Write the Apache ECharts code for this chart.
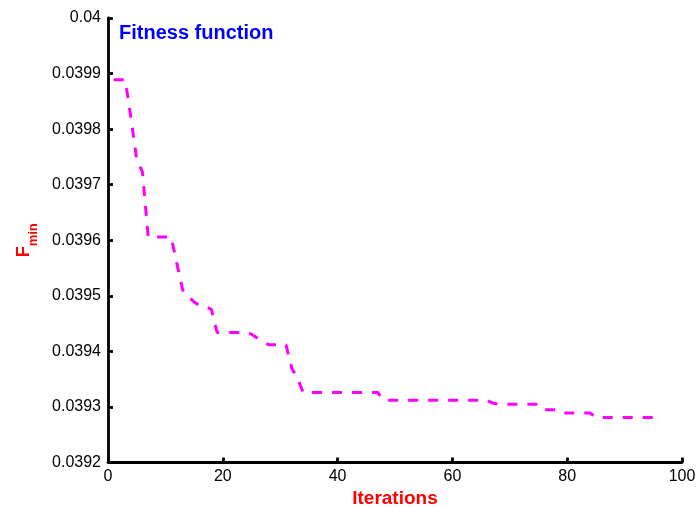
<!DOCTYPE html>
<html>
<head>
<meta charset="utf-8">
<script src="https://cdn.jsdelivr.net/npm/echarts@6/dist/echarts.min.js"></script>
<style>
html,body{margin:0;padding:0;background:#fff;overflow:hidden;}
#chart{width:699px;height:508px;}
</style>
</head>
<body>
<div id="chart"></div>
<script>
// Iteration numbers (x) and minimum fitness values (y)
var iterations = [
  1,2,3,4,5,6,7,8,9,10,11,12,13,14,15,16,17,18,19,20,
  21,22,23,24,25,26,27,28,29,30,31,32,33,34,35,36,37,38,39,40,
  41,42,43,44,45,46,47,48,49,50,51,52,53,54,55,56,57,58,59,60,
  61,62,63,64,65,66,67,68,69,70,71,72,73,74,75,76,77,78,79,80,
  81,82,83,84,85,86,87,88,89,90,91,92,93,94,95,96
];
var fmin = [
  0.039889,0.039889,0.039889,0.039820,0.039745,0.039723,
  0.039606,0.039606,0.039606,0.039606,0.039606,
  0.039558,0.039511,0.039498,0.039489,0.039482,0.039480,0.039476,
  0.039434,0.039434,0.039434,0.039434,0.039434,0.039434,
  0.039431,0.039424,0.039417,
  0.039412,0.039412,0.039412,0.039412,
  0.039370,0.039352,
  0.039326,0.039326,0.039326,0.039326,0.039326,0.039326,0.039326,
  0.039326,0.039326,0.039326,0.039326,0.039326,0.039326,0.039326,
  0.039312,0.039312,0.039312,0.039312,0.039312,0.039312,0.039312,0.039312,0.039312,0.039312,
  0.039312,0.039312,0.039312,0.039312,0.039312,0.039312,0.039312,0.039312,0.039312,
  0.039307,
  0.039305,0.039305,0.039305,0.039305,0.039305,0.039305,0.039305,0.039305,
  0.039295,0.039295,0.039295,
  0.039289,0.039289,0.039289,0.039289,0.039289,0.039289,
  0.039281,0.039281,0.039281,0.039281,0.039281,0.039281,
  0.039281,0.039281,0.039281,0.039281,0.039281,0.039281
];
var xTicks = [0, 20, 40, 60, 80, 100];
var yTicks = [0.0392, 0.0393, 0.0394, 0.0395, 0.0396, 0.0397, 0.0398, 0.0399, 0.04];
var titleText = 'Fitness function';
var xName = 'Iterations';

var FONT = '"Liberation Sans", Arial, Helvetica, sans-serif';
var points = iterations.map(function (it, i) { return [it, fmin[i]]; });

var chart = echarts.init(document.getElementById('chart'), null, {renderer: 'canvas'});
chart.setOption({
  animation: false,
  backgroundColor: '#ffffff',
  title: {
    text: titleText,
    left: 119,
    top: 23,
    padding: 0,
    textStyle: {color: '#0000ff', fontSize: 20, fontWeight: 'bold', fontFamily: FONT}
  },
  grid: {left: 108, right: 17, top: 18, bottom: 45.5, containLabel: false, outerBoundsMode: 'none'},
  xAxis: {
    type: 'value',
    min: xTicks[0],
    max: xTicks[xTicks.length - 1],
    interval: 20,
    name: xName,
    nameLocation: 'middle',
    nameGap: 24,
    nameTextStyle: {color: '#ff0000', fontSize: 19, fontWeight: 'bold', fontFamily: FONT},
    axisLine: {show: true, lineStyle: {color: '#000', width: 2.8}},
    axisTick: {show: true, inside: true, length: 5, lineStyle: {color: '#000', width: 2.8}},
    axisLabel: {color: '#000', fontSize: 16, fontFamily: FONT, margin: 6},
    splitLine: {show: false}
  },
  yAxis: {
    type: 'value',
    min: yTicks[0],
    max: yTicks[yTicks.length - 1],
    interval: 0.0001,
    name: '{f|F}{s|min}',
    nameLocation: 'middle',
    nameRotate: 90,
    nameGap: 68,
    nameTextStyle: {
      rich: {
        f: {color: '#ff0000', fontSize: 18, fontWeight: 'bold', fontFamily: FONT, verticalAlign: 'top', lineHeight: 18},
        s: {color: '#ff0000', fontSize: 13, fontWeight: 'bold', fontFamily: FONT, padding: [12, 0, 0, 0]}
      }
    },
    axisLine: {show: true, lineStyle: {color: '#000', width: 2.8}},
    axisTick: {show: true, inside: true, length: 5, lineStyle: {color: '#000', width: 2.8}},
    axisLabel: {
      color: '#000', fontSize: 16, fontFamily: FONT, margin: 7,
      formatter: function (v) { return String(parseFloat(v.toFixed(4))); }
    },
    splitLine: {show: false}
  },
  series: [{
    type: 'line',
    data: points,
    showSymbol: false,
    symbol: 'none',
    lineStyle: {color: '#ff00ff', width: 3, type: [10, 10]},
    z: 3
  }]
});
</script>
</body>
</html>
